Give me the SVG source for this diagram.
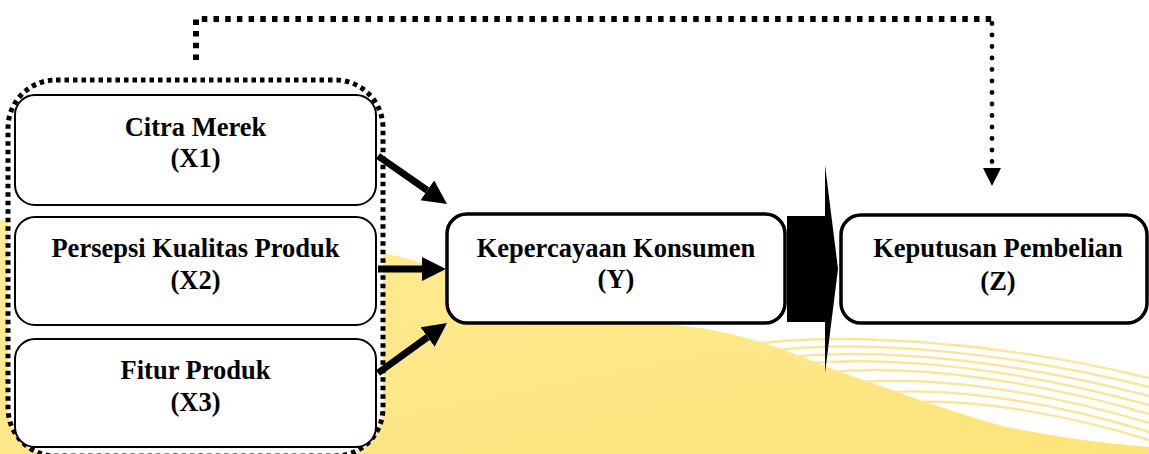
<svg xmlns="http://www.w3.org/2000/svg" width="1149" height="454" viewBox="0 0 1149 454">
<style>
.t{font-family:"Liberation Serif","Times New Roman",serif;font-weight:bold;font-size:26.5px;fill:#000;text-anchor:middle}
.box{fill:#fff;stroke:#000;stroke-width:2}
.box2{fill:#fff;stroke:#000;stroke-width:3.5}
.arr{stroke:#000;stroke-width:7;fill:none;marker-end:url(#ah)}
.streak{fill:none;stroke:#FAE69A;stroke-width:2.4}
</style>
<defs>
<linearGradient id="yg" x1="0" y1="0" x2="1" y2="1">
<stop offset="0" stop-color="#FEEB96"/>
<stop offset="1" stop-color="#FDE47A"/>
</linearGradient>
<marker id="ah" markerUnits="userSpaceOnUse" markerWidth="25" markerHeight="25" refX="0" refY="12" orient="auto" viewBox="0 0 25 25">
<path d="M0,0 L24,12 L0,24 Z" fill="#000"/>
</marker>
</defs>
<rect width="1149" height="454" fill="#fff"/>
<g id="background">
<path d="M0 220 C 200 224, 350 236, 450 272 C 530 300, 620 318, 700 328 C 760 338, 800 356, 830 368 C 900 393, 960 415, 1007 427 C 1060 438, 1110 444, 1149 447 L1149 454 L0 454 Z" fill="url(#yg)"/>
<path class="streak" d="M740 346 C 840 330, 1000 342, 1149 378"/>
<path class="streak" d="M760 352 C 860 338, 1010 352, 1149 387"/>
<path class="streak" d="M780 358 C 880 346, 1020 362, 1149 396"/>
<path class="streak" d="M800 364 C 900 354, 1030 372, 1149 405"/>
<path class="streak" d="M830 372 C 920 364, 1040 382, 1149 414"/>
<path class="streak" d="M860 382 C 940 376, 1050 393, 1149 423"/>
<path class="streak" d="M890 392 C 960 388, 1060 404, 1149 432"/>
<path class="streak" d="M920 402 C 980 400, 1070 415, 1149 440"/>
</g>
<g id="group-x">
<rect x="8" y="80" width="375" height="376" rx="48" fill="#fff" stroke="#000" stroke-width="5" stroke-dasharray="4.5 4"/>
</g>
<g id="node-x1">
<rect class="box" x="15" y="95" width="361" height="110" rx="20"/>
<text class="t" x="195.5" y="135.5">Citra Merek</text>
<text class="t" x="195.5" y="167">(X1)</text>
</g>
<g id="node-x2">
<rect class="box" x="15" y="217" width="361" height="108" rx="20"/>
<text class="t" x="195.5" y="257">Persepsi Kualitas Produk</text>
<text class="t" x="195.5" y="289">(X2)</text>
</g>
<g id="node-x3">
<rect class="box" x="15" y="339" width="361" height="108" rx="20"/>
<text class="t" x="195.5" y="379">Fitur Produk</text>
<text class="t" x="195.5" y="411">(X3)</text>
</g>
<g id="node-y">
<rect class="box2" x="447" y="214" width="338" height="109" rx="20"/>
<text class="t" x="616" y="257">Kepercayaan Konsumen</text>
<text class="t" x="616" y="288">(Y)</text>
</g>
<g id="node-z">
<rect class="box2" x="841" y="215" width="306" height="108" rx="20"/>
<text class="t" x="998" y="257">Keputusan Pembelian</text>
<text class="t" x="998" y="290">(Z)</text>
</g>
<g id="connectors">
<line class="arr" x1="378" y1="156" x2="427.3" y2="190.3"/>
<line class="arr" x1="378" y1="269" x2="422" y2="269"/>
<line class="arr" x1="378" y1="373" x2="427.6" y2="337.1"/>
<polygon points="787,216 825,216 825,165 838,269 825,373 825,322 787,322" fill="#000"/>
<path d="M196 60 V19 H992" fill="none" stroke="#000" stroke-width="6" stroke-dasharray="5.5 6.2"/>
<path d="M992 23.5 V165" fill="none" stroke="#000" stroke-width="4.8" stroke-linecap="round" stroke-dasharray="0 11.5"/>
<polygon points="983,168 1001,168 992,186" fill="#000"/>
</g>
</svg>
